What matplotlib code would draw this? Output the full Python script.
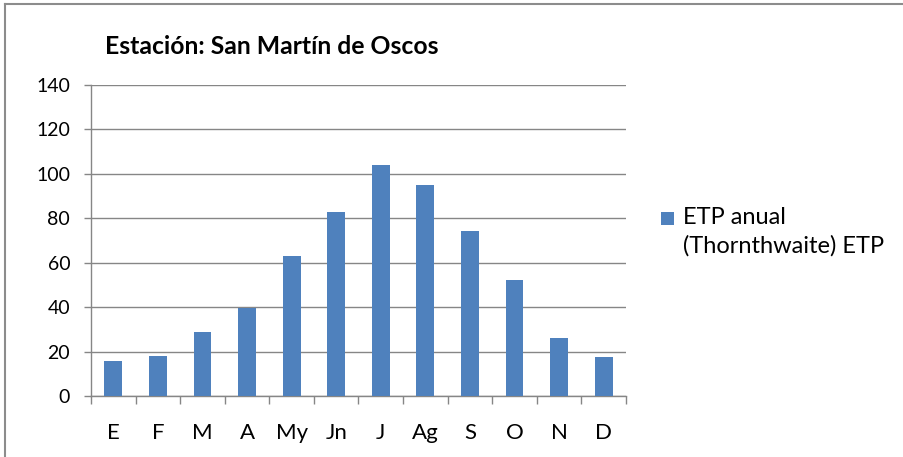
import matplotlib
matplotlib.use("Agg")
import matplotlib.pyplot as plt
from matplotlib.lines import Line2D
from matplotlib.patches import Rectangle
import numpy as np

categories = ["E", "F", "M", "A", "My", "Jn", "J", "Ag", "S", "O", "N", "D"]
etp = [15.8, 18.0, 29.0, 39.7, 63.2, 83.0, 103.8, 95.2, 74.3, 52.2, 26.0, 17.4]
yticks = [0, 20, 40, 60, 80, 100, 120, 140]
title = "Estación: San Martín de Oscos"
series_label = "ETP anual\n(Thornthwaite) ETP"

plt.rcParams['font.family'] = ['Lato', 'DejaVu Sans']

W, H = 904, 457
fig = plt.figure(figsize=(W / 100, H / 100), dpi=100)
ax = fig.add_axes([91 / W, 1 - 396 / H, (626 - 91) / W, (396 - 85) / H])

bar_color = "#4F81BD"
grid_color = "#868686"
x = np.arange(len(categories))
ax.bar(x, etp, width=0.4, color=bar_color, zorder=3)

ax.set_xlim(-0.5, len(categories) - 0.5)
ax.set_ylim(0, 140)
ax.set_yticks(yticks)
ax.set_yticklabels([str(v) for v in yticks], fontsize=14)
ax.set_xticks(x)
ax.set_xticklabels(categories, fontsize=16)
ax.set_xticks(np.arange(-0.5, len(categories)), minor=True)

ax.tick_params(axis='x', which='major', length=0, pad=19.5)
ax.tick_params(axis='x', which='minor', length=6, width=1, color=grid_color, direction='out')
ax.tick_params(axis='y', which='major', length=5, width=1, color=grid_color, direction='out', pad=10)

ax.yaxis.grid(True, color=grid_color, linewidth=1, zorder=0)
ax.set_axisbelow(True)
for s in ['top', 'right']:
    ax.spines[s].set_visible(False)
for s in ['left', 'bottom']:
    ax.spines[s].set_color(grid_color)
    ax.spines[s].set_linewidth(1)

fig.text(105 / W, 1 - 46 / H, title, fontsize=17.8, fontweight='bold', va='center', ha='left')

# legend (drawn manually to match the reference layout)
fig.add_artist(Rectangle((661 / W, 1 - 225 / H), 13 / W, 13 / H, transform=fig.transFigure,
                         facecolor=bar_color, edgecolor='none'))
fig.text(683 / W, 1 - 207 / H, series_label, fontsize=17, va='top', ha='left', linespacing=1.42)

# outer chart frame (clipped at right and bottom)
fig.add_artist(Line2D([5.5 / W, 5.5 / W], [-0.1, 1 - 3.5 / H], transform=fig.transFigure,
                      color="#8c8c8c", linewidth=1.5))
fig.add_artist(Line2D([5.5 / W, 1.1], [1 - 3.5 / H, 1 - 3.5 / H], transform=fig.transFigure,
                      color="#8c8c8c", linewidth=1.5))

fig.savefig("out.png", dpi=100)
